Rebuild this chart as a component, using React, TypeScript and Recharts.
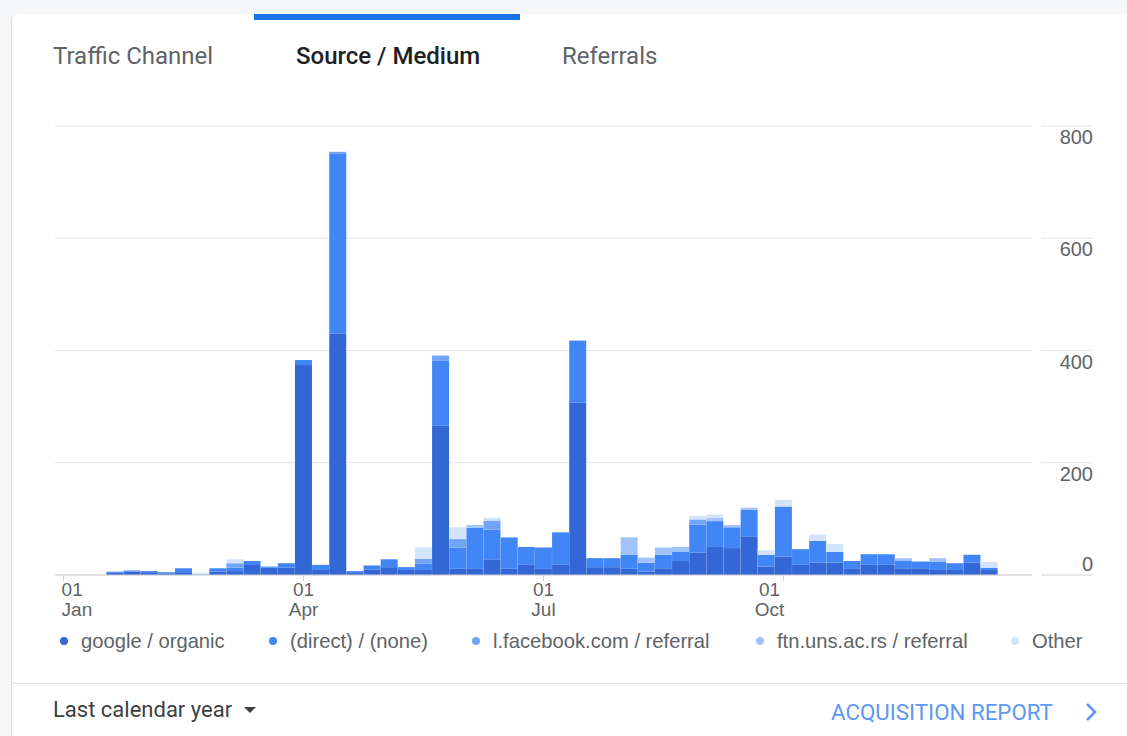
import React from 'react';
import { BarChart, Bar, XAxis, YAxis, CartesianGrid } from 'recharts';

// ---- data ----
const WEEKS = [
  1, 2, 3, 4, 5, 6, 7, 8, 9, 10, 11, 12, 13, 14, 15, 16, 17, 18, 19, 20,
  21, 22, 23, 24, 25, 26, 27, 28, 29, 30, 31, 32, 33, 34, 35, 36, 37, 38, 39, 40,
  41, 42, 43, 44, 45, 46, 47, 48, 49, 50, 51, 52, 53, 54, 55, 56, 57,
];

const GOOGLE_ORGANIC = [
  0, 0, 0, 4, 6, 5, 3, 5, 1, 6, 7, 18, 13, 13, 374, 9, 430, 5, 10, 14,
  9, 9, 266, 11, 12, 28, 11, 18, 12, 18, 307, 14, 14, 11, 6, 12, 25, 40, 50, 48,
  69, 15, 33, 18, 22, 22, 12, 18, 18, 12, 12, 9, 9, 22, 9, 0, 0,
];

const DIRECT_NONE = [
  0, 0, 0, 2, 2, 2, 2, 7, 0, 6, 6, 7, 2, 8, 9, 9, 320, 2, 7, 14,
  5, 11, 116, 38, 72, 53, 56, 32, 37, 58, 110, 16, 16, 25, 16, 24, 16, 50, 46, 37,
  47, 21, 89, 28, 39, 19, 13, 19, 19, 14, 12, 15, 12, 14, 4, 0, 0,
];

const FACEBOOK_REFERRAL = [
  0, 0, 0, 0, 0, 0, 0, 0, 0, 0, 8, 0, 0, 0, 0, 0, 4, 0, 0, 0,
  0, 9, 9, 15, 0, 16, 0, 0, 0, 0, 1, 0, 0, 0, 0, 0, 0, 9, 0, 0,
  0, 0, 0, 0, 0, 0, 0, 0, 0, 0, 0, 0, 0, 0, 0, 0, 0,
];

const FTN_REFERRAL = [
  0, 0, 0, 0, 0, 0, 0, 0, 0, 0, 0, 0, 0, 0, 0, 0, 0, 0, 0, 0,
  0, 0, 0, 0, 5, 0, 0, 0, 0, 0, 0, 0, 0, 31, 9, 13, 9, 0, 6, 4,
  4, 0, 0, 0, 0, 0, 0, 0, 0, 4, 0, 6, 0, 0, 0, 0, 0,
];

const OTHER = [
  0, 0, 0, 0, 0, 0, 0, 0, 3, 0, 7, 0, 0, 0, 0, 0, 0, 0, 0, 0,
  0, 20, 0, 21, 0, 5, 0, 0, 0, 0, 0, 0, 0, 0, 0, 0, 0, 6, 6, 0,
  0, 8, 12, 0, 11, 14, 0, 0, 0, 0, 0, 0, 0, 0, 10, 0, 0,
];

const X_TICK_LABELS: Record<number, string[]> = {
  1: ['01', 'Jan'],
  15: ['01', 'Apr'],
  29: ['01', 'Jul'],
  43: ['01', 'Oct'],
};

const Y_TICKS = [0, 200, 400, 600, 800];

const SERIES = [
  { key: 'google', name: 'google / organic', color: '#3367d6' },
  { key: 'direct', name: '(direct) / (none)', color: '#4285f4' },
  { key: 'facebook', name: 'l.facebook.com / referral', color: '#72a4f7' },
  { key: 'ftn', name: 'ftn.uns.ac.rs / referral', color: '#a1c2fa' },
  { key: 'other', name: 'Other', color: '#d2e3fc' },
];

const TABS = ['Traffic Channel', 'Source / Medium', 'Referrals'];
const ACTIVE_TAB = 1;
const DATE_RANGE = 'Last calendar year';
const REPORT_LINK = 'ACQUISITION REPORT';

// layout (pixel positions of legend items and tabs)
const LEGEND_LEFT = [60, 269, 472, 756, 1011];
const TAB_LEFT = [53, 296, 562];

const data = WEEKS.map((w, i) => ({
  week: w,
  google: GOOGLE_ORGANIC[i],
  direct: DIRECT_NONE[i],
  facebook: FACEBOOK_REFERRAL[i],
  ftn: FTN_REFERRAL[i],
  other: OTHER[i],
}));

const AXIS_FONT = '"Liberation Sans", Arial, sans-serif';
const UI_FONT = 'Roboto, "Noto Sans", sans-serif';

const XTick = (props: any) => {
  const { x, y, payload, index } = props;
  const lab = X_TICK_LABELS[payload.value];
  if (!lab) return null;
  const first = index === 0;
  const shift = payload.value === 43 ? -14 : 0;
  const tx = first ? x - 2 : x + shift;
  const anchor = first ? 'start' : 'middle';
  return (
    <g>
      <line x1={x} x2={x} y1={y} y2={y + 6} stroke="#d0d0d0" strokeWidth={1} />
      <text x={tx} y={y + 21} textAnchor={anchor} fill="#5f6368" fontSize={19} fontFamily={AXIS_FONT}>
        {lab[0]}
      </text>
      <text x={tx} y={y + 41} textAnchor={anchor} fill="#5f6368" fontSize={19} fontFamily={AXIS_FONT}>
        {lab[1]}
      </text>
    </g>
  );
};

const YTick = (props: any) => {
  const { x, y, payload } = props;
  const isZero = payload.value === 0;
  return (
    <g>
      <line x1={x + 9} x2={x + 60} y1={y} y2={y} stroke={isZero ? '#d0d0d0' : '#e6e6e6'} strokeWidth={1} />
      <text
        x={x + 61}
        y={isZero ? y - 4 : y + 18}
        textAnchor="end"
        fill="#5f6368"
        fontSize={20}
        fontFamily={AXIS_FONT}
      >
        {payload.value}
      </text>
    </g>
  );
};

export default function App() {
  return (
    <div
      style={{
        position: 'absolute',
        left: 0,
        top: 0,
        width: 1127,
        height: 736,
        overflow: 'hidden',
        background: '#f5f6f7',
      }}
    >
      {/* card */}
      <div
        style={{
          position: 'absolute',
          left: 11,
          top: 14,
          width: 1130,
          height: 730,
          background: '#ffffff',
          borderLeft: '1px solid #dadce0',
          borderTopLeftRadius: 6,
        }}
      />
      {/* active tab indicator */}
      <div
        style={{
          position: 'absolute',
          left: 254,
          top: 14,
          width: 266,
          height: 6,
          background: '#1a73e8',
        }}
      />
      {/* tabs */}
      {TABS.map((t, i) => (
        <div
          key={t}
          style={{
            position: 'absolute',
            left: TAB_LEFT[i],
            top: 43,
            lineHeight: '26px',
            fontSize: 24,
            fontFamily: UI_FONT,
            fontWeight: i === ACTIVE_TAB ? 500 : 400,
            color: i === ACTIVE_TAB ? '#202124' : '#5f6368',
            whiteSpace: 'nowrap',
          }}
        >
          {t}
        </div>
      ))}

      <div style={{ position: 'absolute', left: 0, top: 0 }}>
        <BarChart
          width={1127}
          height={736}
          data={data}
          margin={{ top: 126, right: 0, left: 55, bottom: 101 }}
          barCategoryGap={0}
          barGap={0}
        >
          <CartesianGrid vertical={false} stroke="#e6e6e6" strokeWidth={1} />
          <XAxis
            dataKey="week"
            interval={0}
            height={60}
            tickSize={0}
            tickMargin={0}
            tickLine={false}
            axisLine={{ stroke: '#d0d0d0' }}
            tick={<XTick />}
          />
          <YAxis
            orientation="right"
            width={95}
            domain={[0, 800]}
            ticks={Y_TICKS}
            tickSize={0}
            tickMargin={0}
            axisLine={false}
            tickLine={false}
            tick={<YTick />}
          />
          {SERIES.map((s) => (
            <Bar
              key={s.key}
              dataKey={s.key}
              name={s.name}
              stackId="a"
              fill={s.color}
              isAnimationActive={false}
            />
          ))}
        </BarChart>
      </div>

      {/* legend */}
      {SERIES.map((s, i) => (
        <div
          key={s.key}
          style={{
            position: 'absolute',
            left: LEGEND_LEFT[i],
            top: 628,
            display: 'flex',
            alignItems: 'center',
            whiteSpace: 'nowrap',
            fontFamily: AXIS_FONT,
            fontSize: 20.2,
            color: '#5f6368',
            lineHeight: '26px',
          }}
        >
          <span
            style={{
              display: 'inline-block',
              width: 8,
              height: 8,
              borderRadius: 4,
              background: s.color,
              marginRight: 13,
            }}
          />
          <span>{s.name}</span>
        </div>
      ))}

      {/* footer separator */}
      <div
        style={{
          position: 'absolute',
          left: 12,
          top: 683,
          width: 1120,
          height: 1,
          background: '#e0e0e0',
        }}
      />
      {/* date range */}
      <div
        style={{
          position: 'absolute',
          left: 53,
          top: 696,
          lineHeight: '28px',
          fontSize: 22,
          fontFamily: UI_FONT,
          color: '#3c4043',
          whiteSpace: 'nowrap',
          display: 'flex',
          alignItems: 'center',
        }}
      >
        <span>{DATE_RANGE}</span>
        <svg width={16} height={10} style={{ marginLeft: 11 }}>
          <polygon points="1,2 13,2 7,8" fill="#3c4043" />
        </svg>
      </div>
      {/* report link */}
      <div
        style={{
          position: 'absolute',
          left: 831,
          top: 698,
          lineHeight: '28px',
          fontSize: 22.3,
          fontFamily: UI_FONT,
          color: '#5e97f6',
          whiteSpace: 'nowrap',
        }}
      >
        {REPORT_LINK}
      </div>
      <svg
        width={20}
        height={24}
        style={{ position: 'absolute', left: 1082, top: 700 }}
      >
        <polyline
          points="5,4 13,12 5,20"
          fill="none"
          stroke="#5e97f6"
          strokeWidth={2.6}
        />
      </svg>
    </div>
  );
}
